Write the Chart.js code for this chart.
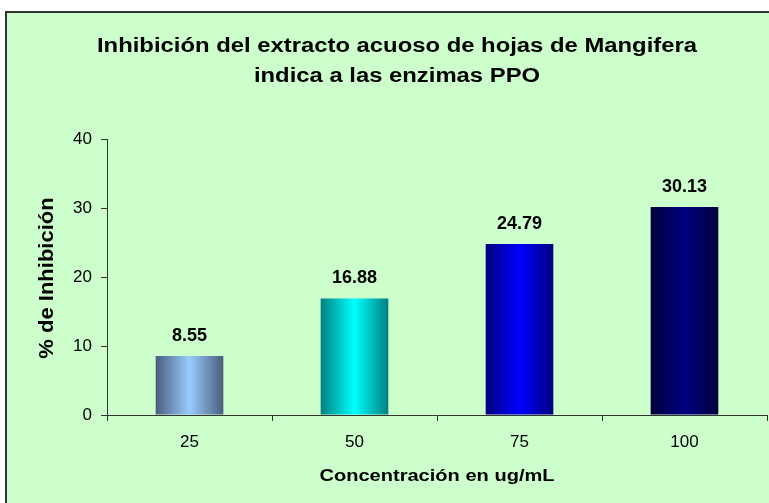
<!DOCTYPE html>
<html>
<head>
<meta charset="utf-8">
<script src="https://cdn.jsdelivr.net/npm/chart.js@4/dist/chart.umd.min.js"></script>
<style>
  html, body { margin: 0; padding: 0; background: #ffffff; }
  #wrap { position: relative; width: 769px; height: 503px; }
</style>
</head>
<body>
<div id="wrap"><canvas id="c" width="769" height="503"></canvas></div>
<script>
const titleLines = ["Inhibición del extracto acuoso de hojas de Mangifera", "indica a las enzimas PPO"];
const categories = ["25", "50", "75", "100"];
const inhibition = [8.55, 16.88, 24.79, 30.13];
const edgeColors = ["#4a5d7e", "#008080", "#000080", "#00003c"];
const centerColors = ["#99ccff", "#00ffff", "#0000ff", "#000080"];
const yTicks = [0, 10, 20, 30, 40];
const xTitle = "Concentración en ug/mL";
const yTitle = "% de Inhibición";

const FONT = "'Liberation Sans', Arial, sans-serif";
const BAR_PCT = 0.41;

function stretchedText(ctx, text, x, y, font, sx, rot) {
  ctx.save();
  ctx.translate(x, y);
  if (rot) ctx.rotate(rot);
  ctx.scale(sx, 1);
  ctx.font = font;
  ctx.fillStyle = '#000000';
  ctx.textAlign = 'center';
  ctx.textBaseline = 'middle';
  ctx.fillText(text, 0, 0);
  ctx.restore();
}

const bgPlugin = {
  id: 'bg',
  beforeDraw(chart) {
    const ctx = chart.ctx;
    ctx.save();
    ctx.fillStyle = '#ffffff';
    ctx.fillRect(0, 0, chart.width, chart.height);
    ctx.fillStyle = '#ccffcc';
    ctx.fillRect(6, 12, chart.width + 10, chart.height + 10);
    ctx.strokeStyle = '#333333';
    ctx.lineWidth = 2;
    ctx.strokeRect(6, 12, chart.width + 10, chart.height + 10);
    ctx.restore();
  }
};

const textPlugin = {
  id: 'texts',
  afterDraw(chart) {
    const ctx = chart.ctx;
    const ca = chart.chartArea;
    // main title
    const tFont = "bold 20px " + FONT;
    ctx.save();
    ctx.font = tFont;
    const w1 = ctx.measureText(titleLines[0]).width;
    ctx.restore();
    const tsx = 600 / w1;
    stretchedText(ctx, titleLines[0], 397, 46, tFont, tsx, 0);
    stretchedText(ctx, titleLines[1], 397, 76, tFont, tsx, 0);
    // x axis title
    stretchedText(ctx, xTitle, (ca.left + ca.right) / 2, 476, "bold 17px " + FONT, 1.18, 0);
    // y axis title
    stretchedText(ctx, yTitle, 47, (ca.top + ca.bottom) / 2 + 1, "bold 20px " + FONT, 1.1, -Math.PI / 2);
  }
};

const labelPlugin = {
  id: 'valueLabels',
  afterDatasetsDraw(chart) {
    const ctx = chart.ctx;
    const meta = chart.getDatasetMeta(0);
    meta.data.forEach((bar, i) => {
      stretchedText(ctx, inhibition[i].toFixed(2), bar.x, bar.y - 20, "bold 18px " + FONT, 1.0, 0);
    });
  }
};

function barGradient(context) {
  const chart = context.chart;
  const i = context.dataIndex;
  const xs = chart.scales && chart.scales.x;
  if (!xs || xs.width === undefined || i === undefined) return centerColors[i || 0];
  const cx = xs.getPixelForValue(i);
  const w = (xs.width / categories.length) * BAR_PCT;
  const g = chart.ctx.createLinearGradient(cx - w / 2, 0, cx + w / 2, 0);
  g.addColorStop(0, edgeColors[i]);
  g.addColorStop(0.5, centerColors[i]);
  g.addColorStop(1, edgeColors[i]);
  return g;
}

new Chart(document.getElementById('c'), {
  type: 'bar',
  data: {
    labels: categories,
    datasets: [{
      data: inhibition,
      backgroundColor: barGradient,
      borderWidth: 0,
      barPercentage: BAR_PCT,
      categoryPercentage: 1.0
    }]
  },
  options: {
    responsive: false,
    animation: false,
    devicePixelRatio: 1,
    layout: { padding: { top: 139, left: 0, right: 2, bottom: 0 } },
    plugins: {
      legend: { display: false },
      tooltip: { enabled: false },
      title: { display: false }
    },
    scales: {
      x: {
        offset: true,
        afterFit(scale) { scale.height = 88; },
        border: { display: true, color: '#333333', width: 1 },
        grid: { display: true, offset: true, drawOnChartArea: false, drawTicks: true, tickLength: 6, color: '#333333' },
        ticks: { color: '#000000', font: { family: FONT, size: 17 }, padding: 11 }
      },
      y: {
        min: 0,
        max: 40,
        afterFit(scale) { scale.width = 107; },
        afterBuildTicks(scale) { scale.ticks = yTicks.map(v => ({ value: v })); },
        border: { display: true, color: '#333333', width: 1 },
        grid: { display: true, drawOnChartArea: false, drawTicks: true, tickLength: 6, color: '#333333' },
        ticks: { color: '#000000', font: { family: FONT, size: 17 }, padding: 9 }
      }
    }
  },
  plugins: [bgPlugin, textPlugin, labelPlugin]
});
</script>
</body>
</html>
